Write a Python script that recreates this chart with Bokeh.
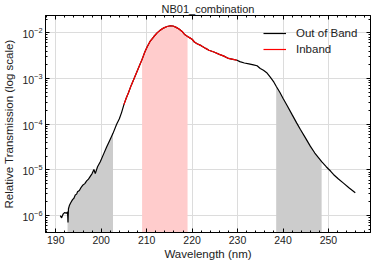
import numpy as np
from bokeh.plotting import figure
from bokeh.models import (Range1d, LinearAxis, LogAxis, CustomJSTickFormatter,
                          SingleIntervalTicker, LogTicker, Legend, LegendItem)
from bokeh.embed import file_html
from bokeh.resources import INLINE

# ---- data ----
wavelength = [191.0, 191.3, 191.6, 192.0, 192.3, 192.6, 192.7, 192.8, 193.0, 193.3,
              193.7, 194.0, 194.3, 194.6, 194.8, 195.2, 195.6, 196.0, 196.4, 196.8,
              197.2, 197.6, 198.0, 198.4, 198.7, 199.2, 199.8, 200.5, 201.2, 202.0,
              202.6, 203.4, 204.0, 204.5, 205.0, 205.5, 206.0, 206.6, 207.2, 208.0,
              208.5, 209.0, 209.6, 210.1, 210.8, 211.6, 212.3, 213.0, 213.8, 214.5,
              215.2, 215.8, 216.5, 217.2, 217.8, 218.3, 218.6, 219.0, 219.5, 220.0,
              220.5, 221.1, 222.0, 223.0, 223.7, 224.8, 226.0, 227.0, 228.0, 229.0,
              229.9, 230.5, 231.5, 232.5, 233.5, 234.3, 235.0, 235.7, 236.5, 237.2,
              238.0, 238.5, 239.3, 240.0, 240.9, 242.0, 243.0, 243.8, 245.0, 246.0,
              247.0, 248.2, 248.5, 249.5, 250.5, 251.1, 252.2, 253.3, 254.5, 255.9]
log_transmission = [-6.00, -6.05, -5.97, -5.93, -5.95, -5.92, -6.15, -5.85, -5.78, -5.72,
                    -5.65, -5.62, -5.55, -5.53, -5.48, -5.45, -5.38, -5.33, -5.30, -5.24,
                    -5.20, -5.14, -5.08, -4.99, -5.08, -4.93, -4.82, -4.66, -4.50, -4.33,
                    -4.20, -4.00, -3.88, -3.74, -3.57, -3.43, -3.31, -3.15, -3.01, -2.82,
                    -2.70, -2.58, -2.42, -2.31, -2.18, -2.08, -2.00, -1.94, -1.89, -1.86,
                    -1.845, -1.85, -1.88, -1.92, -1.97, -2.03, -2.05, -2.08, -2.11, -2.14,
                    -2.20, -2.24, -2.28, -2.34, -2.38, -2.42, -2.47, -2.51, -2.56, -2.58,
                    -2.60, -2.63, -2.66, -2.68, -2.70, -2.72, -2.78, -2.82, -2.88, -2.97,
                    -3.08, -3.17, -3.30, -3.43, -3.59, -3.79, -3.97, -4.11, -4.31, -4.48,
                    -4.63, -4.78, -4.82, -4.93, -5.03, -5.10, -5.20, -5.29, -5.39, -5.50]
inband_range = (205.0, 229.9)
inband_fill = (209.0, 219.0)
outband_fills = [(192.6, 202.6), (238.5, 248.5)]
x_ticks_interval = 10

wl = np.array(wavelength)
tr = 10.0 ** np.array(log_transmission)

y_lo, y_hi = 10 ** -6.37, 10 ** -1.62

p = figure(width=374, height=265, y_axis_type="log",
           x_range=Range1d(187.75, 259.25), y_range=Range1d(y_lo, y_hi),
           output_backend="svg", toolbar_location=None, title="NB01_combination",
           min_border_left=0, min_border_right=4, min_border_top=0, min_border_bottom=33)
p.background_fill_color = "white"
p.border_fill_color = "white"
p.outline_line_color = "black"
p.outline_line_width = 1

FONT = "Liberation Sans"
p.title.align = "center"
p.title.text_font = FONT
p.title.text_font_size = "11px"
p.title.text_font_style = "normal"
p.title.text_color = "#222222"
p.title.standoff = 1

# fills under the curve
def band(lo, hi):
    m = (wl >= lo - 1e-9) & (wl <= hi + 1e-9)
    return wl[m], tr[m]

for lo, hi in outband_fills:
    bx, by = band(lo, hi)
    p.varea(x=bx, y1=[y_lo / 10] * len(bx), y2=by, fill_color="#cccccc", fill_alpha=1.0)
bx, by = band(*inband_fill)
p.varea(x=bx, y1=[y_lo / 10] * len(bx), y2=by, fill_color="#ffcccc", fill_alpha=1.0)

# lines
r_out = p.line(wl, tr, line_color="black", line_width=1.2)
ix, iy = band(*inband_range)
r_in = p.line(ix, iy, line_color="#ff0000", line_width=1.2)

# grid
p.xgrid.grid_line_color = "#dcdcdc"
p.ygrid.grid_line_color = "#dcdcdc"

xt = SingleIntervalTicker(interval=x_ticks_interval, num_minor_ticks=5)
yt = LogTicker(num_minor_ticks=10, mantissas=[1])
p.xaxis.ticker = xt
p.yaxis.ticker = yt
p.xgrid.ticker = xt
p.ygrid.ticker = yt

def style_axis(ax):
    ax.major_tick_in = 4
    ax.major_tick_out = 0
    ax.minor_tick_in = 2
    ax.minor_tick_out = 0
    ax.axis_line_color = "black"
    ax.major_tick_line_color = "black"
    ax.minor_tick_line_color = "black"
    ax.major_label_text_font = FONT
    ax.major_label_text_font_size = "10.5px"
    ax.major_label_text_color = "#222222"
    ax.axis_label_text_font = FONT
    ax.axis_label_text_font_size = "11.5px"
    ax.axis_label_text_font_style = "normal"
    ax.axis_label_text_color = "#222222"

for ax in p.xaxis + p.yaxis:
    style_axis(ax)
p.xaxis.axis_label = "Wavelength (nm)"
p.yaxis.axis_label = "Relative Transmission (log scale)"
p.xaxis.major_label_standoff = 3
p.xaxis.axis_label_standoff = 1
p.yaxis.major_label_standoff = 3
p.yaxis.axis_label_standoff = 4

blank = CustomJSTickFormatter(code="return ''")
top = LinearAxis(ticker=xt, formatter=blank)
right = LogAxis(ticker=yt, formatter=blank)
for ax in (top, right):
    style_axis(ax)
    ax.major_label_text_font_size = "0px"
    ax.major_label_standoff = 0
    ax.axis_label_standoff = 0
p.add_layout(top, "above")
p.add_layout(right, "right")

legend = Legend(items=[LegendItem(label="Out of Band", renderers=[r_out]),
                       LegendItem(label="Inband", renderers=[r_in])],
                location=(218, 175))
legend.border_line_color = None
legend.background_fill_alpha = 0
legend.label_text_font = FONT
legend.label_text_font_size = "11.5px"
legend.label_text_color = "#222222"
legend.glyph_width = 23
legend.glyph_height = 16
legend.label_height = 16
legend.spacing = 0
legend.padding = 4
legend.margin = 0
legend.label_standoff = 10
p.add_layout(legend, "center")

open("out.html", "w").write(file_html(p, INLINE))
